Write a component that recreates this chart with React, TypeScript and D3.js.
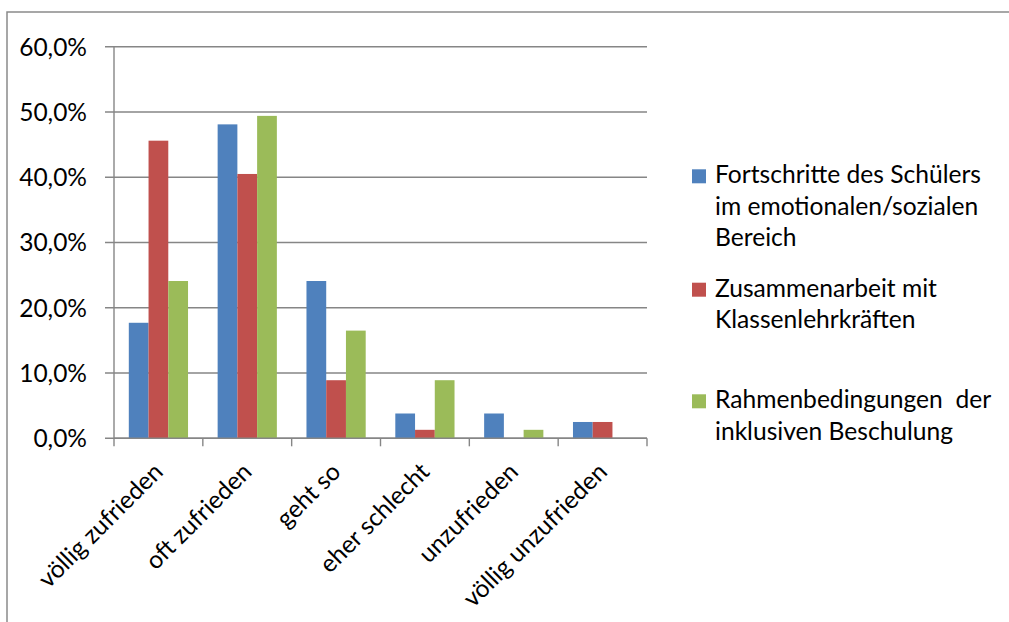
import React, { useEffect, useRef } from "react";
import * as d3 from "d3";

// Response categories (x axis)
const categories = [
  "völlig zufrieden",
  "oft zufrieden",
  "geht so",
  "eher schlecht",
  "unzufrieden",
  "völlig unzufrieden",
];

// Series names as shown in the legend (one entry per line)
const seriesNames = ["fortschritte", "zusammenarbeit", "rahmen"];
const legendLines = [
  ["Fortschritte des Schülers", "im emotionalen/sozialen", "Bereich"],
  ["Zusammenarbeit mit", "Klassenlehrkräften"],
  ["Rahmenbedingungen  der", "inklusiven Beschulung"],
];
const seriesColors = ["#4F81BD", "#C0504D", "#9BBB59"];

// Percent values per series
const fortschritte = [17.7, 48.1, 24.1, 3.8, 3.8, 2.5];
const zusammenarbeit = [45.6, 40.5, 8.9, 1.3, 0, 2.5];
const rahmen = [24.1, 49.4, 16.5, 8.9, 1.3, 0];

// Y axis ticks (percent)
const yTicks = [0, 10, 20, 30, 40, 50, 60];

const W = 1009;
const H = 622;
const FONT = "Lato, 'Noto Sans', sans-serif";

export default function App() {
  const ref = useRef<SVGSVGElement | null>(null);

  useEffect(() => {
    const svg = d3.select(ref.current);
    svg.selectAll("*").remove();

    const left = 114;
    const right = 647;
    const top = 46.7;
    const bottom = 438.3;

    const values = [fortschritte, zusammenarbeit, rahmen];

    const y = d3.scaleLinear().domain([0, 60]).range([bottom, top]);
    const x0 = d3.scaleBand<string>().domain(categories).range([left, right]).padding(0);
    const x1 = d3
      .scaleBand<string>()
      .domain(seriesNames)
      .range([0, x0.bandwidth()])
      .paddingInner(0)
      .paddingOuter(0.75);

    const grid = "#868686";

    // chart frame (top and left edges)
    svg
      .append("path")
      .attr("d", `M7,622 L7,12 L${W + 2},12`)
      .attr("fill", "none")
      .attr("stroke", "#8a8a8a")
      .attr("stroke-width", 1.5);

    // horizontal gridlines with outward tick marks
    svg
      .append("g")
      .selectAll("line")
      .data(yTicks)
      .join("line")
      .attr("x1", left - 9)
      .attr("x2", right)
      .attr("y1", (d) => y(d))
      .attr("y2", (d) => y(d))
      .attr("stroke", grid)
      .attr("stroke-width", 1.4);

    // y tick labels
    svg
      .append("g")
      .selectAll("text")
      .data(yTicks)
      .join("text")
      .attr("x", 87)
      .attr("y", (d) => y(d))
      .attr("dy", "0.36em")
      .attr("text-anchor", "end")
      .attr("font-family", FONT)
      .attr("font-size", 24.5)
      .attr("fill", "#000")
      .text((d) => d3.format(".1f")(d).replace(".", ",") + "%");

    // bars
    const groups = svg
      .append("g")
      .selectAll("g")
      .data(categories)
      .join("g")
      .attr("transform", (c) => `translate(${x0(c)},0)`);

    groups
      .selectAll("rect")
      .data((c) =>
        seriesNames.map((s, k) => ({ s, k, v: values[k][categories.indexOf(c)] }))
      )
      .join("rect")
      .attr("x", (d) => x1(d.s)!)
      .attr("width", x1.bandwidth())
      .attr("y", (d) => y(d.v))
      .attr("height", (d) => bottom - y(d.v))
      .attr("fill", (d) => seriesColors[d.k]);

    // left axis line
    svg
      .append("line")
      .attr("x1", left)
      .attr("x2", left)
      .attr("y1", top)
      .attr("y2", bottom)
      .attr("stroke", grid)
      .attr("stroke-width", 1.4);

    // bottom axis line and category tick marks
    svg
      .append("line")
      .attr("x1", left)
      .attr("x2", right)
      .attr("y1", bottom)
      .attr("y2", bottom)
      .attr("stroke", grid)
      .attr("stroke-width", 1.4);

    const boundaries = categories.map((c) => x0(c)!).concat([right]);
    svg
      .append("g")
      .selectAll("line")
      .data(boundaries)
      .join("line")
      .attr("x1", (d) => d)
      .attr("x2", (d) => d)
      .attr("y1", bottom)
      .attr("y2", bottom + 8)
      .attr("stroke", grid)
      .attr("stroke-width", 1.4);

    // rotated category labels
    svg
      .append("g")
      .selectAll("text")
      .data(categories)
      .join("text")
      .attr("transform", (c) => {
        const cx = x0(c)! + x0.bandwidth() / 2 + 6;
        const cy = bottom + 35;
        return `translate(${cx},${cy}) rotate(-45)`;
      })
      .attr("text-anchor", "end")
      .attr("font-family", FONT)
      .attr("font-size", 24.5)
      .attr("fill", "#000")
      .text((c) => c);

    // legend
    const legendTop = [183.3, 296.7, 408.3];
    const lineH = 31.5;
    const lg = svg.append("g");
    legendLines.forEach((lines, k) => {
      lg.append("rect")
        .attr("x", 692)
        .attr("y", legendTop[k] - 14)
        .attr("width", 14)
        .attr("height", 14)
        .attr("fill", seriesColors[k]);
      lines.forEach((t, j) => {
        lg.append("text")
          .attr("x", 715)
          .attr("y", legendTop[k] + j * lineH)
          .attr("font-family", FONT)
          .attr("font-size", 24.6)
          .attr("fill", "#000")
          .attr("xml:space", "preserve")
          .style("white-space", "pre")
          .text(t);
      });
    });
  }, []);

  return (
    <div style={{ position: "absolute", left: 0, top: 0 }}>
      <svg ref={ref} width={W} height={H} style={{ display: "block", background: "#fff" }} />
    </div>
  );
}
